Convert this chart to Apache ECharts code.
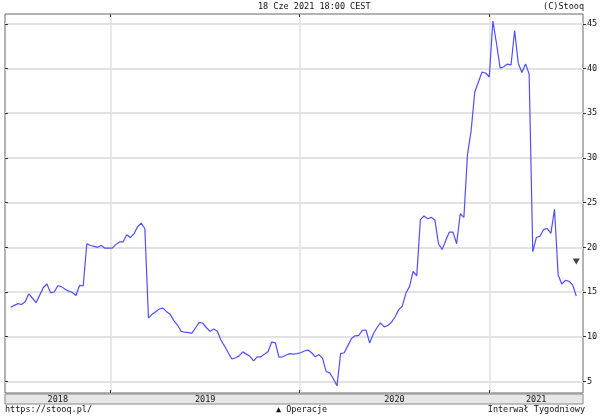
<!DOCTYPE html>
<html><head><meta charset="utf-8">
<script src="https://cdn.jsdelivr.net/npm/echarts@6/dist/echarts.min.js"></script>
<style>html,body{margin:0;padding:0;background:#fff}#c{width:602px;height:418px}</style>
</head><body><div id="c"></div>
<script>
// ---- data ----
const firstWeek = '2018-06-22';          // first weekly close
const weekStepDays = 7;
const prices = [
 13.3,13.5,13.7,13.6,13.9,14.8,14.3,13.8,14.65,15.5,
 15.9,14.9,15.0,15.7,15.6,15.3,15.1,14.95,14.6,15.75,
 15.7,20.4,20.2,20.1,20.0,20.2,19.9,19.9,19.9,20.3,
 20.6,20.6,21.4,21.1,21.5,22.3,22.7,22.1,12.1,12.5,
 12.8,13.1,13.2,12.8,12.5,11.8,11.3,10.6,10.5,10.45,
 10.4,11.0,11.6,11.5,11.0,10.6,10.85,10.6,9.6,8.95,
 8.2,7.5,7.65,7.85,8.3,8.05,7.8,7.3,7.75,7.75,
 8.05,8.35,9.4,9.3,7.7,7.75,7.95,8.1,8.05,8.1,
 8.2,8.4,8.5,8.2,7.75,8.0,7.6,6.1,5.95,5.3,
 4.5,8.1,8.2,9.0,9.8,10.1,10.15,10.7,10.75,9.3,
 10.3,11.0,11.55,11.1,11.25,11.6,12.2,13.0,13.4,14.85,
 15.6,17.3,16.8,23.1,23.5,23.2,23.35,23.05,20.4,19.75,
 20.75,21.7,21.7,20.4,23.75,23.35,30.4,33.05,37.35,38.5,
 39.6,39.5,39.05,45.3,42.8,40.05,40.2,40.5,40.4,44.25,
 40.6,39.55,40.5,39.4,19.5,21.1,21.25,22.0,22.1,21.55,
 24.25,16.9,15.9,16.3,16.2,15.8,14.55
];
const operations = [['2021-06-18', 18.4]];
const yearStarts = ['2019-01-01', '2020-01-01', '2021-01-01'];
const yearLabels = ['2018', '2019', '2020', '2021'];
const yTickValues = [5, 10, 15, 20, 25, 30, 35, 40, 45];
const xRange = ['2018-06-11', '2021-07-01'];
const yRange = [3.7, 46.1];
const headerText = '18 Cze 2021 18:00 CEST';
const copyrightText = '(C)Stooq';
const footerLeft = 'https://stooq.pl/';
const footerMid = '\u25B2 Operacje';
const footerRight = 'Interwał Tygodniowy';

// ---- build ----
const DAY = 86400000;
const ts = s => Date.parse(s + 'T00:00:00Z');
const t0 = ts(firstWeek);
const lineData = prices.map((v, i) => [t0 + i * weekStepDays * DAY, v]);
const opData = operations.map(([d, v]) => [ts(d), v]);
const xMin = ts(xRange[0]), xMax = ts(xRange[1]);
const bounds = [xMin].concat(yearStarts.map(ts), [xMax]);
const labelPos = yearLabels.map((_, i) => (bounds[i] + bounds[i + 1]) / 2);
const yearTicks = yearStarts.map(ts);
const yearOf = v => { for (let i = 0; i < yearLabels.length; i++) { if (v < bounds[i + 1]) return yearLabels[i]; } return yearLabels[yearLabels.length - 1]; };

const FONT = 'DejaVu Sans Mono';
const TXT = '#111';
const txt = {fontFamily: FONT, fontSize: 8.5, color: TXT, fontWeight: 'normal'};

const chart = echarts.init(document.getElementById('c'), null, {renderer: 'canvas'});
chart.setOption({
  animation: false,
  backgroundColor: '#fff',
  title: [
    {text: headerText, left: 258, top: 2, textStyle: txt, padding: 0},
    {text: copyrightText, right: 18, top: 2, textStyle: txt, padding: 0},
    {text: footerLeft, left: 5, top: 405, textStyle: txt, padding: 0},
    {text: footerMid, left: 276, top: 405, textStyle: txt, padding: 0},
    {text: footerRight, right: 17, top: 405, textStyle: txt, padding: 0}
  ],
  grid: [
    {left: 5, right: 19, top: 14, height: 379, show: true, borderColor: '#666', borderWidth: 1, backgroundColor: 'transparent'},
    {left: 5, right: 19, top: 394, height: 10, show: true, borderColor: '#888', borderWidth: 1, backgroundColor: '#e6e6e6'}
  ],
  xAxis: [
    {type: 'value', gridIndex: 0, min: xMin, max: xMax, position: 'bottom',
     axisLine: {show: false}, axisLabel: {show: false},
     axisTick: {show: true, inside: true, length: 3, customValues: yearTicks, lineStyle: {color: '#333'}},
     splitLine: {show: true, lineStyle: {color: '#e2e2e2', width: 1.5}}},
    {type: 'value', gridIndex: 0, min: xMin, max: xMax, position: 'top',
     axisLine: {show: false}, axisLabel: {show: false},
     axisTick: {show: true, inside: true, length: 3, customValues: yearTicks, lineStyle: {color: '#333'}},
     splitLine: {show: false}},
    {type: 'value', gridIndex: 1, min: xMin, max: xMax, position: 'top',
     axisLine: {show: false},
     axisTick: {show: false},
     splitLine: {show: false},
     axisLabel: {show: true, inside: true, margin: 1, customValues: labelPos,
       fontFamily: FONT, fontSize: 8.5, color: TXT, verticalAlign: 'top', align: 'center',
       formatter: v => yearOf(v)}}
  ],
  yAxis: [
    {type: 'value', gridIndex: 0, position: 'right', min: yRange[0], max: yRange[1],
     axisLine: {show: false},
     axisTick: {show: true, inside: false, length: 3, customValues: yTickValues, lineStyle: {color: '#333'}},
     axisLabel: {show: true, margin: 4, customValues: yTickValues, fontFamily: FONT, fontSize: 8.5, color: TXT},
     splitLine: {show: true, lineStyle: {color: '#e2e2e2', width: 2}}},
    {type: 'value', gridIndex: 0, position: 'left', min: yRange[0], max: yRange[1],
     axisLine: {show: false}, axisLabel: {show: false},
     axisTick: {show: true, inside: true, length: 3, customValues: yTickValues, lineStyle: {color: '#333'}},
     splitLine: {show: false}},
    {type: 'value', gridIndex: 1, show: false}
  ],
  series: [
    {type: 'line', xAxisIndex: 0, yAxisIndex: 0, data: lineData, showSymbol: false,
     lineStyle: {color: '#4f4fff', width: 1.2}, itemStyle: {color: '#4f4fff'}, z: 3},
    {type: 'scatter', xAxisIndex: 0, yAxisIndex: 0, data: opData, symbol: 'triangle', symbolRotate: 180,
     symbolSize: [7, 6], itemStyle: {color: '#111'}, z: 4}
  ]
});
</script></body></html>
